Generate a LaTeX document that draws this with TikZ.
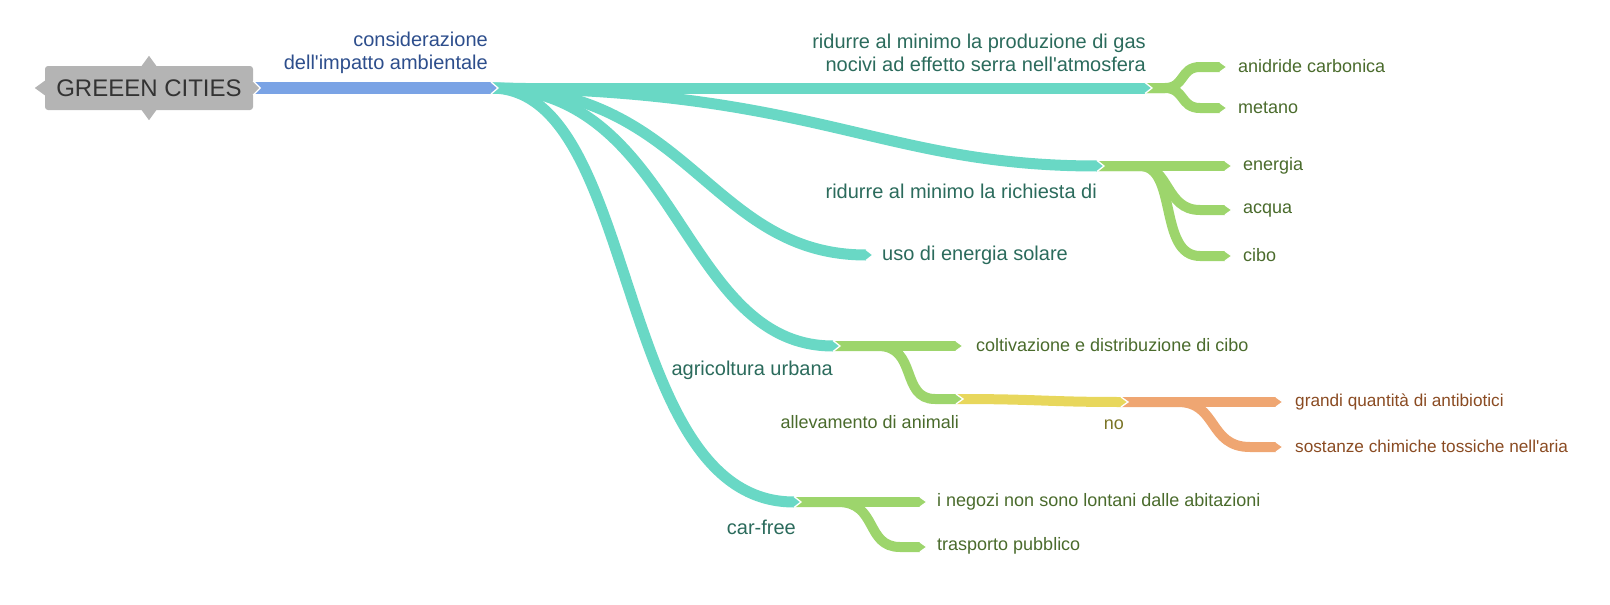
\documentclass[tikz,border=0pt]{standalone}
\usepackage{fontspec}
\setmainfont{Liberation Sans}[Ligatures=TeXOff]
\definecolor{cgray}{HTML}{B4B4B4}
\definecolor{croot}{HTML}{333333}
\definecolor{cblue}{HTML}{7AA3E5}
\definecolor{cteal}{HTML}{69D8C5}
\definecolor{cgreen}{HTML}{9DD56C}
\definecolor{cyel}{HTML}{E8D75C}
\definecolor{corange}{HTML}{EFA672}
\definecolor{tblue}{HTML}{2D4E8C}
\definecolor{tteal}{HTML}{2B6B5C}
\definecolor{tgreen}{HTML}{4A6B2C}
\definecolor{tyel}{HTML}{7A7426}
\definecolor{torange}{HTML}{8A4B22}
\newcommand\mmtip[3]{%
  \fill[#2, shift={(#1)}] (0,-#3) -- (7,0) -- (0,#3) -- cycle;
  \draw[white, line width=1.3pt, line join=miter, shift={(#1)}] (0,-#3) -- (7,0) -- (0,#3);}
\begin{document}
\begin{tikzpicture}[x=1pt,y=-1pt,
  mmbar/.style={line width=#1, line cap=butt},
  lvlA/.style={font=\fontsize{20}{22.5}\selectfont, inner sep=0pt},
  lvlB/.style={font=\fontsize{18}{20}\selectfont, inner sep=0pt},
  lvlC/.style={font=\fontsize{17.2}{20}\selectfont, inner sep=0pt}]
\useasboundingbox (0,0) rectangle (1610,605);
% root
\node[fill=cgray, rounded corners=3pt, minimum width=208pt, minimum height=44pt,
      inner sep=0pt, text=croot, font=\fontsize{24}{26}\selectfont] (root) at (149,88) {GREEEN CITIES};
\fill[cgray, shift={(root.north)}] (-8,1) -- (0,-10) -- (8,1) -- cycle;
\fill[cgray, shift={(root.south)}] (-8,-1) -- (0,10) -- (8,-1) -- cycle;
\fill[cgray, shift={(root.west)}] (1,-8) -- (-10,0) -- (1,8) -- cycle;
% junction coordinates (tip bases)
\coordinate (R) at (root.east);
\coordinate (B) at (491,88);
\coordinate (T1) at (1145,88);
\coordinate (T2) at (1097,166);
\coordinate (T3) at (866,255);
\coordinate (T4) at (833,346);
\coordinate (T5) at (794,502);
\coordinate (G1a) at (1220,67);
\coordinate (G1b) at (1220,108);
\coordinate (G2a) at (1225,166);
\coordinate (G2b) at (1225,210);
\coordinate (G2c) at (1225,256);
\coordinate (G4a) at (956,346);
\coordinate (G4b) at (956,399);
\coordinate (Y) at (1121,402);
\coordinate (O1) at (1276,402);
\coordinate (O2) at (1276,447);
\coordinate (G5a) at (920,502);
\coordinate (G5b) at (920,547);
% bars
\draw[mmbar=12pt, cblue] (R) -- (B);
\draw[mmbar=11pt, cteal] (B) -- (T1);
\draw[mmbar=11pt, cteal] (B) .. controls (820,90) and (880,166) .. (T2);
\draw[mmbar=11pt, cteal] (B) .. controls (690,88) and (710,255) .. (T3);
\draw[mmbar=11pt, cteal] (B) .. controls (680,88) and (680,346) .. (T4);
\draw[mmbar=11pt, cteal] (B) .. controls (642,88) and (612,502) .. (T5);
\draw[mmbar=10pt, cgreen] (T1) -- (1165,88) .. controls (1185,88) and (1180,67) .. (1200,67) -- (G1a);
\draw[mmbar=10pt, cgreen] (T1) -- (1165,88) .. controls (1185,88) and (1180,108) .. (1200,108) -- (G1b);
\draw[mmbar=10pt, cgreen] (T2) -- (G2a);
\draw[mmbar=10pt, cgreen] (T2) -- (1140,166) .. controls (1170,166) and (1165,210) .. (1200,210) -- (G2b);
\draw[mmbar=10pt, cgreen] (T2) -- (1140,166) .. controls (1178,166) and (1158,256) .. (1200,256) -- (G2c);
\draw[mmbar=10pt, cgreen] (T4) -- (G4a);
\draw[mmbar=10pt, cgreen] (T4) -- (878,346) .. controls (918,346) and (900,399) .. (935,399) -- (G4b);
\draw[mmbar=10pt, cyel] (G4b) .. controls (1040,399) and (1045,402) .. (Y);
\draw[mmbar=10pt, corange] (Y) -- (O1);
\draw[mmbar=10pt, corange] (Y) -- (1178,402) .. controls (1218,402) and (1208,447) .. (1250,447) -- (O2);
\draw[mmbar=10pt, cgreen] (T5) -- (G5a);
\draw[mmbar=10pt, cgreen] (T5) -- (838,502) .. controls (878,502) and (865,547) .. (900,547) -- (G5b);
% tips
\mmtip{R}{cgray}{7}
\mmtip{B}{cblue}{6}
\mmtip{T1}{cteal}{5.5}
\mmtip{T2}{cteal}{5.5}
\mmtip{T3}{cteal}{5.5}
\mmtip{T4}{cteal}{5.5}
\mmtip{T5}{cteal}{5.5}
\mmtip{G1a}{cgreen}{5}
\mmtip{G1b}{cgreen}{5}
\mmtip{G2a}{cgreen}{5}
\mmtip{G2b}{cgreen}{5}
\mmtip{G2c}{cgreen}{5}
\mmtip{G4a}{cgreen}{5}
\mmtip{G4b}{cgreen}{5}
\mmtip{Y}{cyel}{5}
\mmtip{O1}{corange}{5}
\mmtip{O2}{corange}{5}
\mmtip{G5a}{cgreen}{5}
\mmtip{G5b}{cgreen}{5}
% labels
\node[lvlA, text=tblue, align=right, anchor=east] (lB) at (488,53) {considerazione\\dell'impatto ambientale};
\node[lvlA, text=tteal, align=right, anchor=east] (lT1) at (1146,53) {ridurre al minimo la produzione di gas\\nocivi ad effetto serra nell'atmosfera};
\node[lvlA, text=tteal, anchor=east] (lT2) at (1097,191) {ridurre al minimo la richiesta di};
\node[lvlA, text=tteal, anchor=west] (lT3) at (882,255) {uso di energia solare};
\node[lvlA, text=tteal, anchor=east] (lT4) at (833,370) {agricoltura urbana};
\node[lvlA, text=tteal, anchor=east] (lT5) at (796,527) {car-free};
\node[lvlB, text=tgreen, anchor=west] (lG1a) at (1238,66) {anidride carbonica};
\node[lvlB, text=tgreen, anchor=west] (lG1b) at (1238,108) {metano};
\node[lvlB, text=tgreen, anchor=west] (lG2a) at (1243,166) {energia};
\node[lvlB, text=tgreen, anchor=west] (lG2b) at (1243,211) {acqua};
\node[lvlB, text=tgreen, anchor=west] (lG2c) at (1243,255) {cibo};
\node[lvlB, text=tgreen, anchor=west] (lG4a) at (976,345.5) {coltivazione e distribuzione di cibo};
\node[lvlB, text=tgreen, anchor=east] (lG4b) at (959,422.5) {allevamento di animali};
\node[lvlB, text=tyel, anchor=east] (lY) at (1124,424.5) {no};
\node[lvlC, text=torange, anchor=west] (lO1) at (1295,401.5) {grandi quantità di antibiotici};
\node[lvlC, text=torange, anchor=west] (lO2) at (1295,446.5) {sostanze chimiche tossiche nell'aria};
\node[lvlB, text=tgreen, anchor=west] (lG5a) at (937,502) {i negozi non sono lontani dalle abitazioni};
\node[lvlB, text=tgreen, anchor=west] (lG5b) at (937,546) {trasporto pubblico};
\end{tikzpicture}
\end{document}
